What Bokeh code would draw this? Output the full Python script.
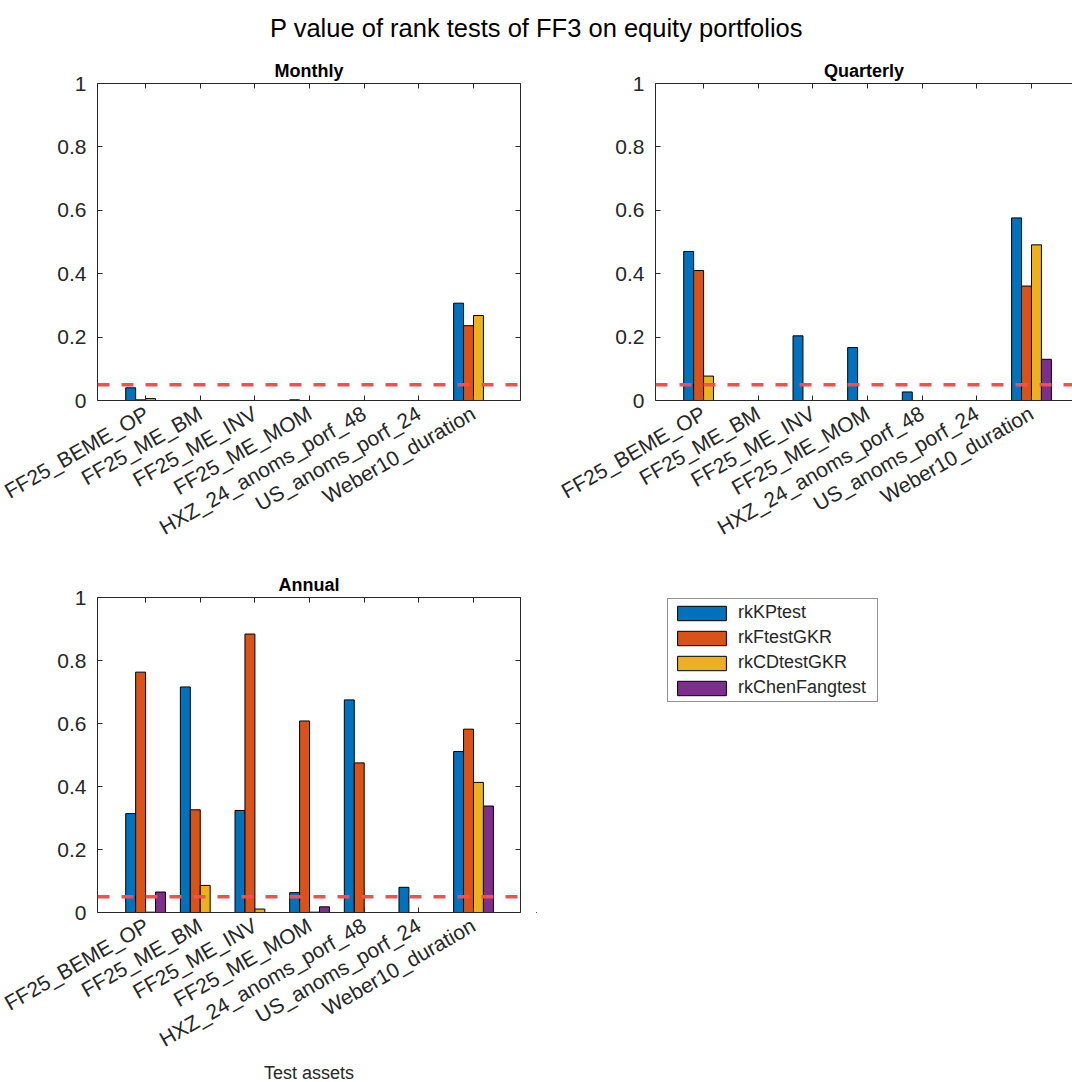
import math

from bokeh.core.properties import value
from bokeh.embed import file_html
from bokeh.layouts import column, row
from bokeh.models import (ColumnDataSource, FixedTicker, Legend, LegendItem,
                          LinearAxis, Range1d, Span)
from bokeh.plotting import figure
from bokeh.resources import INLINE

# ---- data ---------------------------------------------------------------
assets = ["FF25_BEME_OP", "FF25_ME_BM", "FF25_ME_INV", "FF25_ME_MOM",
          "HXZ_24_anoms_porf_48", "US_anoms_porf_24", "Weber10_duration"]
tests = ["rkKPtest", "rkFtestGKR", "rkCDtestGKR", "rkChenFangtest"]

monthly_kp = [0.040, 0.000, 0.000, 0.002, 0.000, 0.000, 0.307]
monthly_f = [0.002, 0.000, 0.000, 0.000, 0.000, 0.000, 0.236]
monthly_cd = [0.006, 0.000, 0.000, 0.000, 0.000, 0.000, 0.268]
monthly_cf = [0.000, 0.000, 0.000, 0.000, 0.000, 0.000, 0.000]

quarterly_kp = [0.470, 0.000, 0.204, 0.167, 0.027, 0.000, 0.576]
quarterly_f = [0.410, 0.000, 0.000, 0.000, 0.000, 0.000, 0.361]
quarterly_cd = [0.077, 0.000, 0.000, 0.000, 0.000, 0.000, 0.491]
quarterly_cf = [0.000, 0.000, 0.000, 0.000, 0.000, 0.000, 0.130]

annual_kp = [0.314, 0.716, 0.324, 0.063, 0.675, 0.080, 0.511]
annual_f = [0.763, 0.326, 0.884, 0.608, 0.475, 0.000, 0.582]
annual_cd = [0.001, 0.086, 0.011, 0.001, 0.000, 0.000, 0.413]
annual_cf = [0.065, 0.000, 0.000, 0.018, 0.000, 0.000, 0.338]

threshold = 0.05
y_ticks = [0, 0.2, 0.4, 0.6, 0.8, 1]
y_tick_labels = ["0", "0.2", "0.4", "0.6", "0.8", "1"]

# ---- style --------------------------------------------------------------
COLORS = ["#0072BD", "#D95319", "#EDB120", "#7E2F8E"]
FONT = "Liberation Sans"
INK = "#262626"
TICK_FONT = "21px"
X_START = 0.12
UNIT_PX = 54.65          # pixels per category step

n_series = len(tests)
group_w = min(0.8, n_series / (n_series + 1.5))
bar_w = group_w / n_series
offsets = [(i - (n_series - 1) / 2) * bar_w for i in range(n_series)]
positions = list(range(1, len(assets) + 1))


def style_axis(ax):
    ax.axis_line_color = INK
    ax.axis_line_width = 1
    ax.major_tick_line_color = INK
    ax.major_tick_in = 5
    ax.major_tick_out = 0
    ax.minor_tick_line_color = None
    ax.major_label_text_font = FONT
    ax.major_label_text_color = INK
    ax.major_label_text_font_size = TICK_FONT


def mirror_axis(ticks):
    # box edge with inward ticks and blank labels
    ax = LinearAxis(ticker=FixedTicker(ticks=ticks))
    style_axis(ax)
    ax.major_label_overrides = {t: "" for t in ticks}
    ax.major_label_standoff = 0
    return ax


def panel(title, series, frame_w, borders, frame_h, right_axis=True, xlabel=None):
    left, right, top, bottom = borders
    x_end = X_START + frame_w / UNIT_PX
    p = figure(frame_width=frame_w, frame_height=frame_h,
               x_range=Range1d(X_START, x_end), y_range=Range1d(0, 1),
               x_axis_location=None, y_axis_location=None,
               toolbar_location=None, output_backend="svg",
               min_border_left=left, min_border_right=right,
               min_border_top=top, min_border_bottom=bottom)
    p.outline_line_color = None
    p.xgrid.visible = False
    p.ygrid.visible = False
    p.background_fill_color = "white"

    p.title.text = title
    p.title.align = "center"
    p.title.text_font = FONT
    p.title.text_font_size = "18px"
    p.title.text_font_style = "bold"
    p.title.text_color = "black"
    p.title.standoff = 5

    xb = LinearAxis(ticker=FixedTicker(ticks=positions))
    xb.major_label_overrides = {k: a for k, a in zip(positions, assets)}
    xb.major_label_orientation = math.pi / 6
    xb.major_label_standoff = 11
    style_axis(xb)
    if xlabel:
        xb.axis_label = xlabel
        xb.axis_label_text_font = FONT
        xb.axis_label_text_font_size = "18px"
        xb.axis_label_text_font_style = "normal"
        xb.axis_label_text_color = INK
        xb.axis_label_standoff = -1
    p.add_layout(xb, "below")

    yl = LinearAxis(ticker=FixedTicker(ticks=y_ticks))
    yl.major_label_overrides = {t: s for t, s in zip(y_ticks, y_tick_labels)}
    yl.major_label_standoff = 11
    style_axis(yl)
    p.add_layout(yl, "left")

    p.add_layout(mirror_axis(positions), "above")
    if right_axis:
        p.add_layout(mirror_axis(y_ticks), "right")

    for i, vals in enumerate(series):
        src = ColumnDataSource(dict(x=[k + offsets[i] for k in positions], top=vals))
        p.vbar(x="x", top="top", bottom=0, width=bar_w, source=src,
               fill_color=COLORS[i], line_color="black", line_width=1)

    p.add_layout(Span(location=threshold, dimension="width",
                      line_color="#ff4d4d", line_width=3.5, line_dash="12 12"))
    return p


# ---- header -------------------------------------------------------------
header = figure(width=1072, height=50, x_range=Range1d(0, 1), y_range=Range1d(0, 1),
                x_axis_location=None, y_axis_location=None, min_border=0,
                toolbar_location=None, output_backend="svg")
header.outline_line_color = None
header.xgrid.visible = False
header.ygrid.visible = False
header.text(x=[0.5], y=[1 - 27 / 50], text=["P value of rank tests of FF3 on equity portfolios"],
            text_align="center", text_baseline="middle", text_font=value(FONT),
            text_font_size="25.5px", text_color="black")

# ---- panels -------------------------------------------------------------
pm = panel("Monthly", [monthly_kp, monthly_f, monthly_cd, monthly_cf],
           423, (97, 16, 33, 160), 317)
pq = panel("Quarterly", [quarterly_kp, quarterly_f, quarterly_cd, quarterly_cf],
           417, (119, 0, 33, 160), 317, right_axis=False)
pa = panel("Annual", [annual_kp, annual_f, annual_cd, annual_cf],
           423, (97, 16, 37, 170), 315, xlabel="Test assets")

# ---- legend panel (frame lines up with the Annual frame) -----------------
pl = figure(frame_width=536, frame_height=315, x_range=Range1d(0, 1), y_range=Range1d(0, 1),
            x_axis_location=None, y_axis_location=None,
            min_border_left=0, min_border_right=0, min_border_top=37, min_border_bottom=170,
            toolbar_location=None, output_backend="svg")
pl.outline_line_color = None
pl.xgrid.visible = False
pl.ygrid.visible = False
items = []
for name, color in zip(tests, COLORS):
    # key renderers: one bar each, kept outside the visible range
    r = pl.vbar(x=[-1], top=[-1], bottom=-2, width=0.1,
                fill_color=color, line_color="black", line_width=1)
    items.append(LegendItem(label=value(name), renderers=[r]))
legend = Legend(items=items, location=(131, 210), glyph_width=61, glyph_height=18,
                label_standoff=6, label_width=136, spacing=4, padding=3, margin=0,
                label_text_font=FONT, label_text_font_size="18px", label_text_color=INK,
                border_line_color=INK, border_line_width=1, background_fill_alpha=1)
pl.add_layout(legend)

layout = column(header, row(pm, pq), row(pa, pl))

with open("out.html", "w") as f:
    f.write(file_html(layout, INLINE))
